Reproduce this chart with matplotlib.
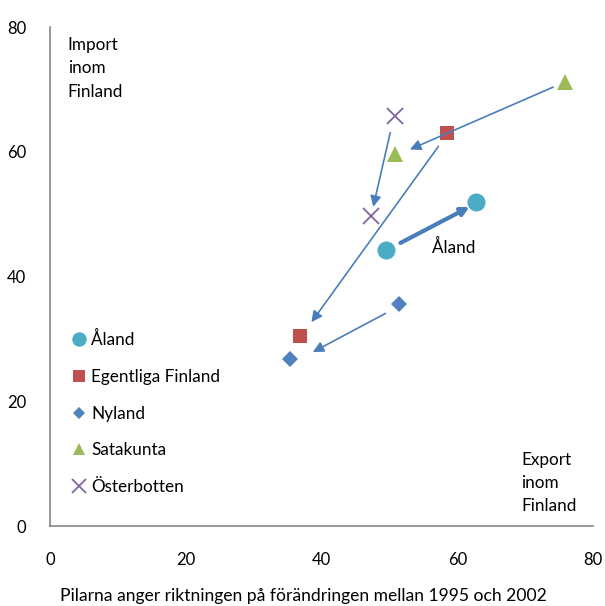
import matplotlib
matplotlib.use('Agg')
import matplotlib.pyplot as plt

plt.rcParams['font.family'] = ['Lato', 'DejaVu Sans']

# data: (export, import) 1995 and 2002 per region
regions = ['Åland', 'Egentliga Finland', 'Nyland', 'Satakunta', 'Österbotten']
x_a = [49.5, 58.5, 51.4, 75.9, 50.8]
y_a = [44.2, 63.1, 35.6, 71.3, 65.7]
x_b = [62.7, 36.8, 35.3, 50.8, 47.3]
y_b = [52.0, 30.5, 26.8, 59.6, 49.8]
colors = ['#4BACC6', '#C0504D', '#4F81BD', '#9BBB59', '#8064A2']
markers = ['o', 's', 'D', '^', 'x']
sizes = [13, 10, 8, 11, 12]

# arrow start/end (export, import)
arr_x0 = [51.6, 57.2, 49.4, 74.1, 50.1]
arr_y0 = [45.4, 60.9, 34.1, 70.4, 63.1]
arr_x1 = [61.8, 38.5, 38.7, 53.0, 47.6]
arr_y1 = [51.2, 32.7, 27.9, 60.4, 51.2]
arr_lw = [3.0, 1.2, 1.2, 1.2, 1.2]

fig = plt.figure(figsize=(6.05, 6.06), dpi=100)
ax = fig.add_axes([0.0826, 0.132, 0.898, 0.823])

for i in range(len(regions)):
    ax.plot([x_a[i], x_b[i]], [y_a[i], y_b[i]], linestyle='none', marker=markers[i],
            color=colors[i], markersize=sizes[i], markeredgewidth=1.3 if markers[i] == 'x' else 0,
            label=regions[i])

for i in range(len(arr_x0)):
    ax.annotate('', xy=(arr_x1[i], arr_y1[i]), xytext=(arr_x0[i], arr_y0[i]),
                arrowprops=dict(arrowstyle='-|>', color='#4A7EBB', lw=arr_lw[i],
                                mutation_scale=16 if arr_lw[i] < 2 else 12,
                                shrinkA=0, shrinkB=0))

ax.set_xlim(0, 80)
ax.set_ylim(0, 80)
ax.set_xticks([0, 20, 40, 60, 80])
ax.set_yticks([0, 20, 40, 60, 80])
ax.tick_params(length=0, labelsize=12, pad=19)
ax.tick_params(axis='y', pad=17)
for s in ['top', 'right']:
    ax.spines[s].set_visible(False)
for s in ['left', 'bottom']:
    ax.spines[s].set_color('#868686')
    ax.spines[s].set_linewidth(1.2)

fig.text(0.502, 0.017, 'Pilarna anger riktningen på förändringen mellan 1995 och 2002',
         fontsize=12.6, ha='center', va='center')

ax.text(2.6, 78.4, 'Import\ninom\nFinland', fontsize=12.3, va='top', ha='left', linespacing=1.55)
ax.text(69.4, 11.9, 'Export\ninom\nFinland', fontsize=12.3, va='top', ha='left', linespacing=1.55)
ax.text(56.2, 44.6, 'Åland', fontsize=12.3, va='center', ha='left')

leg = ax.legend(loc='upper left', bbox_to_anchor=(0.022, 0.405), frameon=False, fontsize=12.3,
                labelspacing=1.22, handletextpad=0.1, handlelength=1.2, markerscale=0.8,
                numpoints=1, borderaxespad=0)

fig.savefig('out.png', dpi=100)
